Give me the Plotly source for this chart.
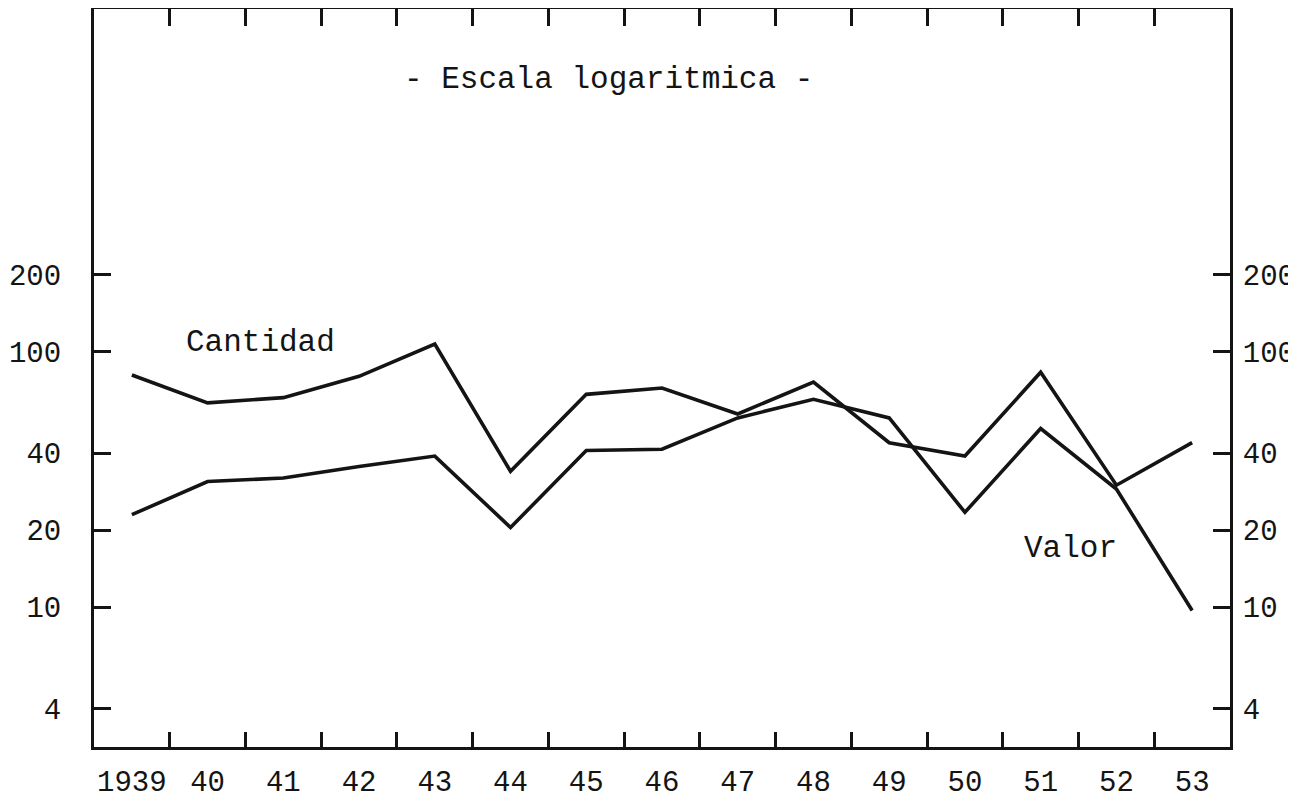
import plotly.graph_objects as go

# ---- data (log-scale index values) ----
years = [1939, 1940, 1941, 1942, 1943, 1944, 1945, 1946, 1947, 1948, 1949, 1950, 1951, 1952, 1953]
year_labels = ["1939", "40", "41", "42", "43", "44", "45", "46", "47", "48", "49", "50", "51", "52", "53"]
cantidad = [81, 63, 66, 80, 107, 34, 68, 72, 57, 76, 44, 39, 83, 30, 44]
valor = [23, 31, 32, 35.5, 39, 20.5, 41, 41.5, 55, 65, 55, 23.5, 50, 29, 9.7]
y_ticks = [4, 10, 20, 40, 100, 200]
y_tick_labels = ["4", "10", "20", "40", "100", "200"]

title_text = "- Escala logaritmica -"
label_cantidad = "Cantidad"
label_valor = "Valor"

FONT = "Liberation Mono, DejaVu Sans Mono, monospace"
INK = "#141414"

x_range = [years[0] - 0.5, years[-1] + 0.5]
y_range = [0.453, 3.34]
boundaries = [y + 0.5 for y in years[:-1]]

fig = go.Figure()
fig.add_trace(go.Scatter(x=years, y=cantidad, mode="lines", name=label_cantidad,
                         line=dict(color=INK, width=3.6), showlegend=False))
fig.add_trace(go.Scatter(x=years, y=valor, mode="lines", name=label_valor,
                         line=dict(color=INK, width=3.6), showlegend=False))
# invisible trace to anchor the mirrored (top / right) axes
fig.add_trace(go.Scatter(x=years, y=valor, xaxis="x2", yaxis="y2", mode="lines",
                         opacity=0, hoverinfo="skip", showlegend=False))

fig.update_layout(
    width=1296, height=809,
    margin=dict(l=80, r=74, t=1, b=70),
    paper_bgcolor="white", plot_bgcolor="white",
    font=dict(family=FONT, color=INK, size=29),
    xaxis=dict(
        range=x_range, showgrid=False, zeroline=False,
        showline=True, linecolor=INK, linewidth=3,
        tickmode="array", tickvals=years, ticktext=year_labels,
        ticks="", ticklabelstandoff=6,
        tickfont=dict(family=FONT, size=29, color=INK),
        minor=dict(tickmode="array", tickvals=boundaries, ticks="inside",
                   ticklen=15, tickwidth=3, tickcolor=INK, showgrid=False),
    ),
    xaxis2=dict(
        range=x_range, overlaying="x", side="top", anchor="y2",
        showgrid=False, zeroline=False,
        showline=True, linecolor=INK, linewidth=3,
        tickmode="array", tickvals=boundaries, ticks="inside",
        ticklen=17, tickwidth=3, tickcolor=INK, showticklabels=False,
    ),
    yaxis=dict(
        type="log", range=y_range, showgrid=False, zeroline=False,
        showline=True, linecolor=INK, linewidth=3,
        tickmode="array", tickvals=y_ticks, ticktext=y_tick_labels,
        ticks="inside", ticklen=17, tickwidth=3, tickcolor=INK,
        ticklabelstandoff=24,
        tickfont=dict(family=FONT, size=29, color=INK),
    ),
    yaxis2=dict(
        type="log", range=y_range, overlaying="y", side="right", anchor="x2",
        showgrid=False, zeroline=False,
        showline=True, linecolor=INK, linewidth=3,
        tickmode="array", tickvals=y_ticks, ticktext=y_tick_labels,
        ticks="inside", ticklen=17, tickwidth=3, tickcolor=INK,
        ticklabelstandoff=4,
        tickfont=dict(family=FONT, size=29, color=INK),
    ),
    annotations=[
        dict(text=title_text, xref="paper", yref="paper", x=0.453, y=0.905,
             xanchor="center", yanchor="middle",
             showarrow=False, font=dict(family=FONT, size=31, color=INK)),
        dict(text=label_cantidad, xref="paper", yref="paper", x=0.147, y=0.548,
             xanchor="center", yanchor="middle",
             showarrow=False, font=dict(family=FONT, size=31, color=INK)),
        dict(text=label_valor, xref="paper", yref="paper", x=0.860, y=0.269,
             xanchor="center", yanchor="middle",
             showarrow=False, font=dict(family=FONT, size=31, color=INK)),
    ],
)

fig.write_html("out.html")
